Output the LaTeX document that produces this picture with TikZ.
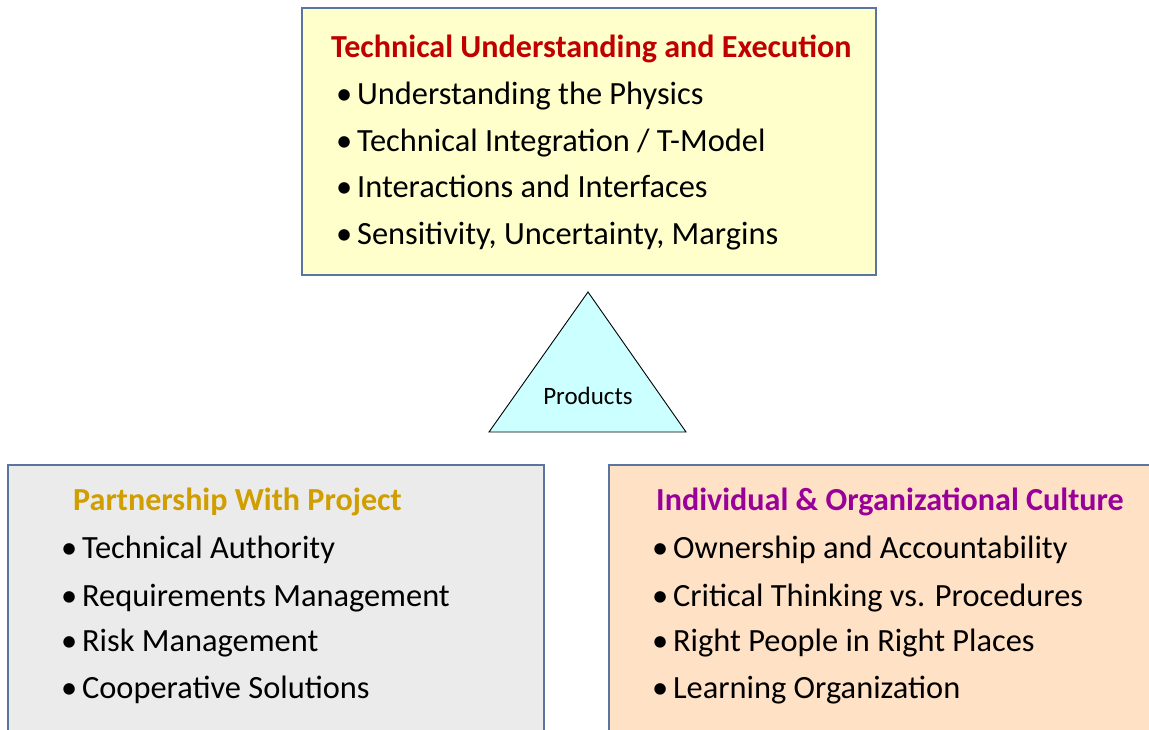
\documentclass[tikz,border=0pt]{standalone}
\usepackage{fontspec}
\setmainfont{Carlito}
\newcommand{\bul}{•\kern-2.5pt\ }
\begin{document}
\begin{tikzpicture}[x=1pt,y=-1pt,
  box/.style={draw=boxline,line width=1.3pt},
  item/.style={anchor=base west,inner sep=0pt,font=\fontsize{32.4}{38}\selectfont},
  head/.style={anchor=base west,inner sep=0pt,font=\fontsize{32.1}{38}\selectfont\bfseries}]
\definecolor{boxline}{HTML}{5A76A0}
\definecolor{yel}{HTML}{FFFFCC}
\definecolor{gry}{HTML}{EBEBEB}
\definecolor{peach}{HTML}{FFE1C5}
\definecolor{cyanf}{HTML}{CCFFFF}
\definecolor{tred}{HTML}{C00000}
\definecolor{tgold}{HTML}{D09E00}
\definecolor{tpurp}{HTML}{990099}
\useasboundingbox (0,0) rectangle (1149,729);
\clip (0,0) rectangle (1149,729);
\fill[white] (0,0) rectangle (1149,729);
% top box
\draw[box,fill=yel] (302,8) rectangle (876,275);
\node[head,text=tred] (t0) at (331,57) {Technical Understanding and Execution};
\node[item] (t1) at (336,104) {\bul Understanding the Physics};
\node[item] (t2) at (336,151) {\bul Technical Integration / T-Model};
\node[item] (t3) at (336,197) {\bul Interactions and Interfaces};
\node[item] (t4) at (336,244) {\bul Sensitivity, Uncertainty, Margins};
% triangle
\draw[black,line width=0.9pt,fill=cyanf] (588,292) -- (686,432) -- (489,432) -- cycle;
\node[font=\fontsize{25}{30}\selectfont,inner sep=0pt] (prod) at (588,396) {Products};
% left box
\draw[box,fill=gry] (8,465) rectangle (544,760);
\node[head,text=tgold] (l0) at (73,510) {Partnership With Project};
\node[item] (l1) at (61,558) {\bul Technical Authority};
\node[item] (l2) at (61,606) {\bul Requirements Management};
\node[item] (l3) at (61,651) {\bul Risk Management};
\node[item] (l4) at (61,698) {\bul Cooperative Solutions};
% right box
\draw[box,fill=peach] (609,465) rectangle (1180,760);
\node[head,text=tpurp] (r0) at (656,510) {Individual \& Organizational Culture};
\node[item] (r1) at (652,558) {\bul Ownership and Accountability};
\node[item] (r2) at (652,606) {\bul Critical Thinking vs. Procedures};
\node[item] (r3) at (652,651) {\bul Right People in Right Places};
\node[item] (r4) at (652,698) {\bul Learning Organization};
\end{tikzpicture}
\end{document}
